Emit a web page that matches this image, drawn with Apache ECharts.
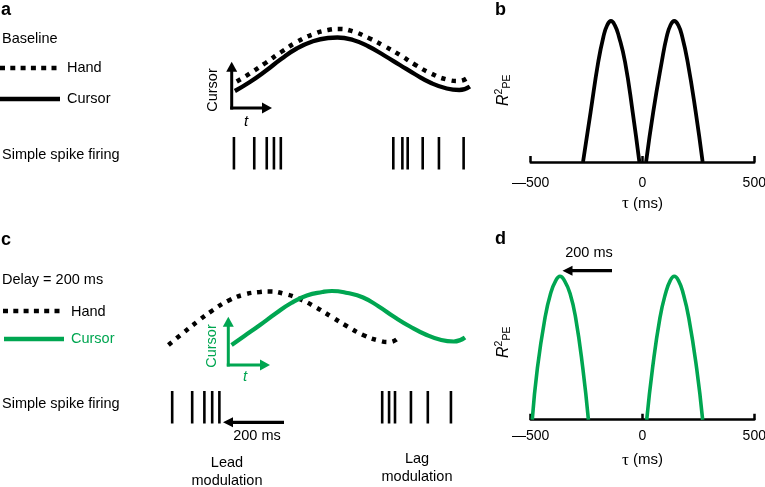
<!DOCTYPE html>
<html><head><meta charset="utf-8">
<script src="https://cdn.jsdelivr.net/npm/echarts@6/dist/echarts.min.js"></script>
<style>html,body{margin:0;padding:0;background:#fff;}#c{width:765px;height:487px;}</style>
</head><body><div id="c"></div>
<script>
// ---------- data ----------
// Panels a / c : time in ms, position in arbitrary units
const handA   = [[28,0.19],[70,0.35],[120,0.56],[170,0.78],[220,0.98],[270,1.13],[320,1.22],[355,1.24],[400,1.19],[450,1.06],[500,0.90],[550,0.72],[600,0.52],[650,0.35],[700,0.23],[740,0.20],[768,0.27]];
const cursorA = [[22,0.0],[70,0.18],[120,0.40],[170,0.64],[220,0.85],[270,0.99],[320,1.06],[350,1.07],[400,1.02],[450,0.89],[500,0.71],[550,0.52],[600,0.33],[650,0.16],[700,0.05],[740,0.02],[774,0.09]];
const spikesA = [19,84,124,147,169,529,558,575,623,675,754];

const handC   = [[27,0.0],[70,0.22],[120,0.47],[170,0.70],[220,0.89],[270,1.01],[320,1.06],[350,1.07],[400,1.02],[450,0.91],[500,0.75],[550,0.56],[600,0.37],[650,0.20],[700,0.09],[735,0.06],[757,0.11]];
const cursorC = [[229,0.0],[270,0.18],[320,0.40],[370,0.63],[420,0.84],[470,0.99],[520,1.06],[550,1.08],[600,1.04],[650,0.95],[700,0.77],[750,0.56],[800,0.37],[850,0.21],[900,0.10],[940,0.07],[976,0.15]];
const spikesC = [39,103,142,167,190,711,733,752,803,857,931];

// Panels b / d : tau (ms) vs R^2_PE (normalised)
const archB1 = [[-266,0],[-232,0.355],[-198,0.709],[-175,0.887],[-158,0.97],[-141,1],[-124,0.97],[-105,0.887],[-78,0.709],[-44,0.355],[-14,0]];
const archB2 = [[16,0],[48,0.355],[86,0.709],[108,0.887],[125,0.97],[142,1],[160,0.97],[178,0.887],[202,0.709],[238,0.355],[269,0]];
const archD1 = [[-493,0],[-470,0.36],[-436,0.71],[-411,0.88],[-388,0.97],[-369,1],[-349,0.97],[-324,0.88],[-299,0.71],[-267,0.36],[-242,0]];
const archD2 = [[19,0],[45,0.36],[78,0.71],[103,0.88],[124,0.97],[142,1],[161,0.97],[182,0.88],[207,0.71],[242,0.36],[269,0]];
const tauTicks = [-500, 0, 500];

// ---------- style ----------
const FONT = "'Liberation Sans', Arial, Helvetica, sans-serif";
const GREEN = '#00a651';
const BLACK = '#000000';
const SPIKE_TOP = -0.92, SPIKE_BOTTOM = -1.57;
const FS = 14.5;

const chart = echarts.init(document.getElementById('c'), null, {renderer: 'canvas'});

function txt(s, x, y, o) {
  o = o || {};
  return {
    type: 'text', x: x, y: y, silent: true,
    rotation: o.rotation || 0,
    style: {
      text: s,
      font: (o.style || '') + ' ' + (o.weight || 'normal') + ' ' + (o.size || FS) + 'px ' + (o.family || FONT),
      fill: o.color || BLACK,
      align: o.align || 'left', textAlign: o.align || 'left',
      verticalAlign: 'middle', textVerticalAlign: 'middle'
    }
  };
}
function arrow(x1, y1, x2, y2, color, lw, hl, hw) {
  const dx = x2 - x1, dy = y2 - y1, L = Math.hypot(dx, dy), ux = dx / L, uy = dy / L;
  const bx = x2 - ux * hl, by = y2 - uy * hl, px = -uy, py = ux;
  return [
    {type: 'line', silent: true, shape: {x1: x1, y1: y1, x2: bx + ux, y2: by + uy}, style: {stroke: color, lineWidth: lw}},
    {type: 'polygon', silent: true, shape: {points: [[x2, y2], [bx + px * hw / 2, by + py * hw / 2], [bx - px * hw / 2, by - py * hw / 2]]}, style: {fill: color}}
  ];
}
function hline(x1, x2, y, color, lw, dash) {
  return {type: 'line', silent: true, shape: {x1: x1, y1: y, x2: x2, y2: y}, style: {stroke: color, lineWidth: lw, lineDash: dash || null}};
}
function rpe(x, y) {
  return {type: 'group', x: x, y: y, rotation: Math.PI / 2, silent: true, children: [
    txt('R', -18, 0, {style: 'italic', size: 16}),
    txt('2', -6.5, -4.5, {size: 10.5}),
    txt('PE', -0.5, 3, {size: 10.5})
  ]};
}

const graphics = [].concat(
  [
    txt('a', 1, 10, {weight: 'bold', size: 18}),
    txt('b', 495, 10, {weight: 'bold', size: 18}),
    txt('c', 1, 240, {weight: 'bold', size: 18}),
    txt('d', 495, 239, {weight: 'bold', size: 18}),
    txt('Baseline', 2, 39),
    hline(0, 60, 68, BLACK, 4.5, [5, 5.3]),
    txt('Hand', 67, 68),
    hline(0, 60, 99, BLACK, 4.5),
    txt('Cursor', 67, 99),
    txt('Simple spike firing', 2, 155),
    txt('Cursor', 213, 90, {rotation: Math.PI / 2, align: 'center'}),
    txt('t', 246, 122, {style: 'italic', size: 15, align: 'center'}),
    txt('Delay = 200 ms', 2, 280),
    hline(3, 62, 311, BLACK, 4.5, [5, 5.3]),
    txt('Hand', 71, 312),
    hline(4, 64, 339, GREEN, 4.5),
    txt('Cursor', 71, 339, {color: GREEN}),
    txt('Simple spike firing', 2, 404),
    txt('Cursor', 212, 346, {rotation: Math.PI / 2, align: 'center', color: GREEN}),
    txt('t', 245, 377, {style: 'italic', size: 15, align: 'center', color: GREEN}),
    txt('200 ms', 257, 436, {align: 'center'}),
    txt('Lead', 227, 463, {align: 'center'}),
    txt('modulation', 227, 481, {align: 'center'}),
    txt('Lag', 417, 459, {align: 'center'}),
    txt('modulation', 417, 477, {align: 'center'}),
    txt('200 ms', 589, 253, {align: 'center'}),
    rpe(504, 88),
    rpe(504, 340)
  ],
  arrow(231.7, 109.5, 231.7, 61.7, BLACK, 3, 10, 11),
  arrow(230.2, 108, 272, 108, BLACK, 3, 10, 11),
  arrow(228.3, 366.5, 228.3, 316.7, GREEN, 3, 10, 11),
  arrow(226.8, 365, 270, 365, GREEN, 3, 10, 11),
  arrow(284, 422.3, 223, 422.3, BLACK, 3.2, 10, 10),
  arrow(612, 270.7, 562.5, 270.7, BLACK, 3.2, 10, 10)
);

function hiddenAxis(idx, min, max) {
  return {type: 'value', gridIndex: idx, min: min, max: max, show: false};
}
function tauAxis(idx, margin, gap) {
  return {
    type: 'value', gridIndex: idx, min: tauTicks[0], max: tauTicks[tauTicks.length - 1], interval: 500,
    axisLine: {show: true, onZero: false, lineStyle: {color: BLACK, width: 2.5}},
    axisTick: {show: true, inside: true, length: 6, lineStyle: {color: BLACK, width: 2.5}},
    axisLabel: {show: true, color: BLACK, fontSize: 14, fontFamily: FONT, margin: margin,
      formatter: v => v < 0 ? '\u2014' + Math.abs(v) : String(v)},
    splitLine: {show: false},
    name: '{t|\u03c4} (ms)', nameLocation: 'middle', nameGap: gap,
    nameTextStyle: {color: BLACK, fontSize: 15, fontFamily: FONT,
      rich: {t: {fontFamily: "'Liberation Serif', 'DejaVu Serif', serif", fontSize: 17, color: BLACK}}}
  };
}
function curve(idx, data, color, width, dash) {
  return {type: 'line', xAxisIndex: idx, yAxisIndex: idx, data: data, smooth: true, symbol: 'none', clip: false,
    lineStyle: {color: color, width: width, type: dash || 'solid', cap: 'butt'}, silent: true};
}
function spikes(idx, times) {
  return {type: 'custom', xAxisIndex: idx, yAxisIndex: idx, clip: false, silent: true,
    data: times.map(t => [t, SPIKE_TOP]), encode: {x: 0, y: 1},
    renderItem: function (params, api) {
      const p1 = api.coord([api.value(0), SPIKE_TOP]);
      const p2 = api.coord([api.value(0), SPIKE_BOTTOM]);
      return {type: 'line', shape: {x1: p1[0], y1: p1[1], x2: p2[0], y2: p2[1]}, style: {stroke: BLACK, lineWidth: 2.6}};
    }};
}

const gridBase = {containLabel: false, outerBoundsMode: 'none', show: false};
chart.setOption({
  animation: false,
  backgroundColor: '#ffffff',
  grid: [
    Object.assign({left: 228, top: 16, width: 250, height: 175}, gridBase),
    Object.assign({left: 160, top: 270, width: 312.5, height: 175}, gridBase),
    Object.assign({left: 530.7, top: 21, width: 223.6, height: 141}, gridBase),
    Object.assign({left: 530.7, top: 276.3, width: 223.6, height: 143.4}, gridBase)
  ],
  xAxis: [hiddenAxis(0, 0, 800), hiddenAxis(1, 0, 1000), tauAxis(2, 14, 33), tauAxis(3, 9, 32)],
  yAxis: [hiddenAxis(0, -2, 1.5), hiddenAxis(1, -2, 1.5), hiddenAxis(2, 0, 1), hiddenAxis(3, 0, 1)],
  series: [
    curve(0, handA, BLACK, 4.5, [4.5, 6]),
    curve(0, cursorA, BLACK, 4.3),
    spikes(0, spikesA),
    curve(1, handC, BLACK, 4.5, [4.5, 6]),
    curve(1, cursorC, GREEN, 4.2),
    spikes(1, spikesC),
    curve(2, archB1, BLACK, 3.8),
    curve(2, archB2, BLACK, 3.8),
    curve(3, archD1, GREEN, 3.6),
    curve(3, archD2, GREEN, 3.6)
  ],
  graphic: graphics
});
</script></body></html>
